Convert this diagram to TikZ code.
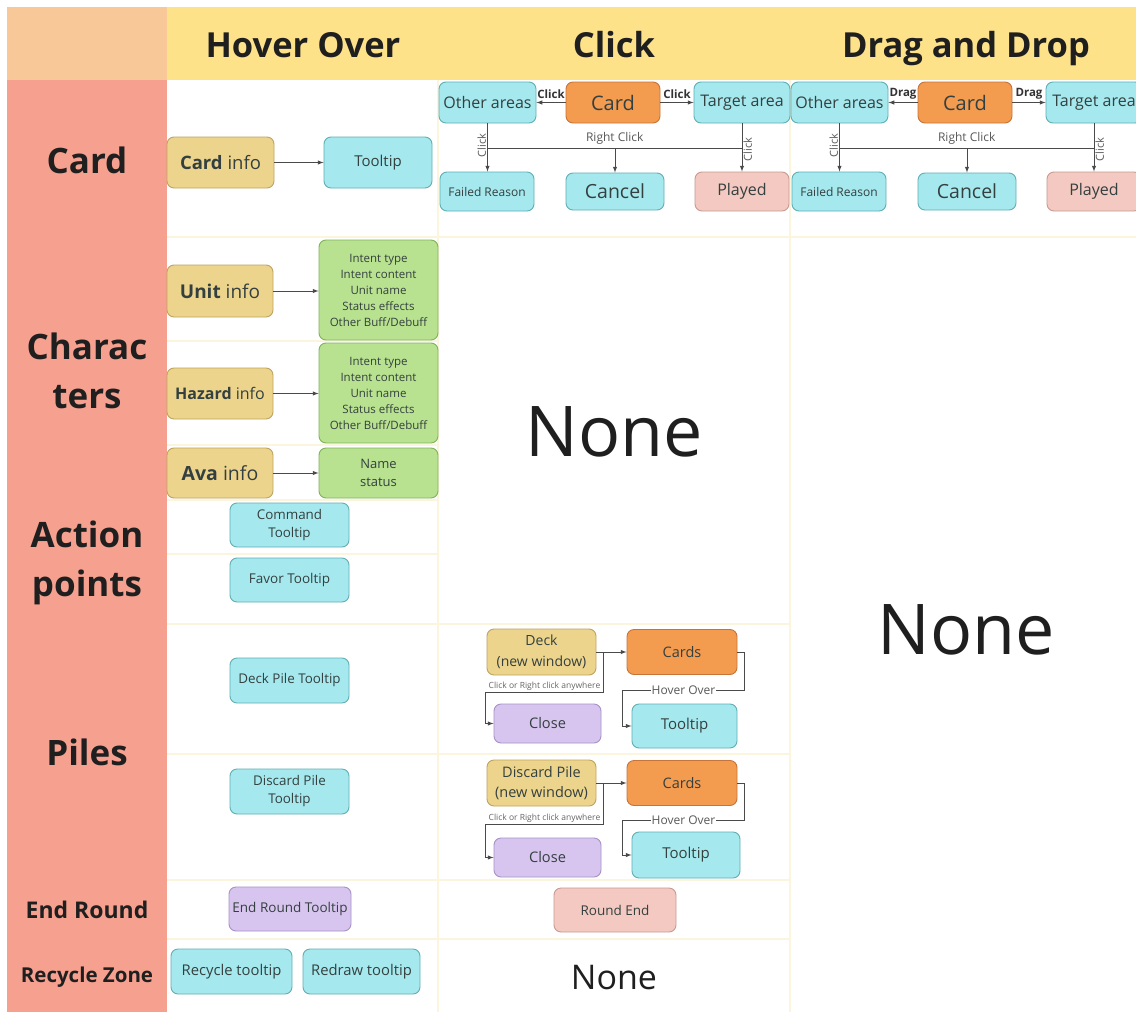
\documentclass[tikz,border=0pt]{standalone}
\usepackage{fontspec}
\setmainfont{Open Sans}
\usetikzlibrary{positioning}

\definecolor{headyellow}{HTML}{FDE28A}
\definecolor{cornerpeach}{HTML}{F8C898}
\definecolor{sidesalmon}{HTML}{F6A18F}
\definecolor{gridline}{HTML}{FCF5DE}
\definecolor{tipfill}{HTML}{A5E9EF}
\definecolor{tipline}{HTML}{62AEB5}
\definecolor{infofill}{HTML}{ECD48C}
\definecolor{infoline}{HTML}{BFA461}
\definecolor{greenfill}{HTML}{B8E190}
\definecolor{greenline}{HTML}{80B45C}
\definecolor{orangefill}{HTML}{F39B4E}
\definecolor{orangeline}{HTML}{C7743A}
\definecolor{pinkfill}{HTML}{F3C9C1}
\definecolor{pinkline}{HTML}{C89B92}
\definecolor{purplefill}{HTML}{D7C5EF}
\definecolor{purpleline}{HTML}{A692C6}
\definecolor{nodetext}{HTML}{34403F}
\definecolor{wirecol}{HTML}{4A4A4A}

\newcommand{\setfs}[2]{\fontsize{#1}{#2}\selectfont}

\begin{document}
\begin{tikzpicture}[x=1pt, y=-1pt,
    box/.style={draw, rounded corners=7pt, line width=0.9pt, align=center, inner sep=1pt, text=nodetext},
    tipbox/.style={box, fill=tipfill, draw=tipline},
    infobox/.style={box, fill=infofill, draw=infoline},
    greenbox/.style={box, fill=greenfill, draw=greenline},
    orangebox/.style={box, fill=orangefill, draw=orangeline},
    pinkbox/.style={box, fill=pinkfill, draw=pinkline},
    purplebox/.style={box, fill=purplefill, draw=purpleline},
    wire/.style={draw=wirecol, line width=1pt, >=latex},
    headtext/.style={font=\bfseries\setfs{34.5}{40}, text=black!88, anchor=base},
    sidetext/.style={font=\bfseries\setfs{35}{49}, align=center, text=black!88},
    actlabel/.style={font=\bfseries\setfs{11.5}{13}, text=black!80, inner sep=1pt},
    smalllabel/.style={font=\setfs{12}{14}, text=black!65, inner sep=1pt},
    tinylabel/.style={font=\setfs{8.5}{10}, text=black!60, inner sep=1pt},
    nonetext/.style={text=black!88},
    grid/.style={draw=gridline, line width=1.2pt}]
    \useasboundingbox (0,0) rectangle (1136,1012);
    \clip (0,0) rectangle (1136,1012);
    \fill[white] (0,0) rectangle (1136,1012);

    % header and side bands
    \fill[cornerpeach] (7,7) rectangle (167,80);
    \fill[headyellow] (167,7) rectangle (1136,80);
    \fill[sidesalmon] (7,80) rectangle (167,1012);
    \node[headtext] (hhover) at (303,57) {Hover Over};
    \node[headtext] (hclick) at (614,57) {Click};
    \node[headtext] (hdrag) at (966,57) {Drag and Drop};

    \node[sidetext] (scard) at (87,160) {Card};
    \node[sidetext] (schar) at (87,371) {Charac\\ters};
    \node[sidetext] (sact) at (87,563) {Action\\points};
    \node[sidetext] (spiles) at (87,752) {Piles};
    \node[sidetext, font=\bfseries\setfs{23}{28}] (send) at (87,910) {End Round};
    \node[sidetext, font=\bfseries\setfs{20.5}{25}] (srec) at (87,977) {Recycle Zone};

    % faint grid
    \foreach \y in {237,341,445,500,554,624,754,880,939}
        \draw[grid] (167,\y) -- (438,\y);
    \foreach \y in {237,624,754,880,939}
        \draw[grid] (438,\y) -- (790,\y);
    \draw[grid] (790,237) -- (1136,237);
    \draw[grid] (438,80) -- (438,1012);
    \draw[grid] (790,80) -- (790,1012);

    % hover over
    \node[infobox, minimum width=107, minimum height=51, font=\setfs{18.5}{22}] (cardinfo) at (220.5,162.5) {\textbf{Card} info};
    \node[tipbox, minimum width=108, minimum height=51, font=\setfs{15}{18}] (cardtip) at (378,162.5) {Tooltip};
    \draw[wire,->] (cardinfo) -- (cardtip);

    \node[infobox, minimum width=106, minimum height=52, font=\setfs{19}{22}] (unitinfo) at (220,291) {\textbf{Unit} info};
    \node[greenbox, minimum width=119, minimum height=100, font=\setfs{11.5}{16}] (unittip) at (378.5,290) {Intent type\\Intent content\\Unit name\\Status effects\\Other Buff/Debuff};
    \draw[wire,->] (unitinfo.east) -- (unitinfo.east -| unittip.west);

    \node[infobox, minimum width=106, minimum height=51, font=\setfs{16}{19}] (hazinfo) at (220,393.5) {\textbf{Hazard} info};
    \node[greenbox, minimum width=119, minimum height=100, font=\setfs{11.5}{16}] (haztip) at (378.5,393) {Intent type\\Intent content\\Unit name\\Status effects\\Other Buff/Debuff};
    \draw[wire,->] (hazinfo.east) -- (hazinfo.east -| haztip.west);

    \node[infobox, minimum width=106, minimum height=50, font=\setfs{19.5}{22}] (avainfo) at (220,473) {\textbf{Ava} info};
    \node[greenbox, minimum width=119, minimum height=50, font=\setfs{13}{18}] (avatip) at (378.5,473) {Name\\status};
    \draw[wire,->] (avainfo) -- (avatip);

    \node[tipbox, minimum width=119, minimum height=44, font=\setfs{13.4}{18}] (cmdtip) at (289.5,525) {Command\\Tooltip};
    \node[tipbox, minimum width=119, minimum height=44, font=\setfs{13.5}{16}] (favtip) at (289.5,580) {Favor Tooltip};
    \node[tipbox, minimum width=119, minimum height=45, font=\setfs{13.4}{16}] (decktiphov) at (289.5,680.5) {Deck Pile Tooltip};
    \node[tipbox, minimum width=119, minimum height=45, font=\setfs{13.4}{18}] (disctiphov) at (289.5,791.5) {Discard Pile\\Tooltip};
    \node[purplebox, minimum width=122, minimum height=44, font=\setfs{13.5}{16}] (endtip) at (290,909) {End Round Tooltip};
    \node[tipbox, minimum width=121, minimum height=45, font=\setfs{14.8}{17}] (rectip) at (231.5,971.5) {Recycle tooltip};
    \node[tipbox, minimum width=117, minimum height=45, font=\setfs{14.8}{17}] (redtip) at (361.5,971.5) {Redraw tooltip};

    % card row, click and drag
    \foreach \dx/\act/\n in {0/Click/c, 352/Drag/d} {
        \node[tipbox, minimum width=97, minimum height=41, font=\setfs{16}{19}] (\n-other) at (487.5+\dx,102.5) {Other areas};
        \node[orangebox, minimum width=94, minimum height=41, font=\setfs{20}{23}] (\n-card) at (613+\dx,102.5) {Card};
        \node[tipbox, minimum width=96, minimum height=41, font=\setfs{16}{19}] (\n-target) at (742+\dx,102.5) {Target area};
        \node[tipbox, minimum width=94, minimum height=39, font=\setfs{12}{14}] (\n-fail) at (487+\dx,191.5) {Failed Reason};
        \node[tipbox, minimum width=98, minimum height=37, font=\setfs{19.5}{22}] (\n-cancel) at (615+\dx,191.5) {Cancel};
        \node[pinkbox, minimum width=94, minimum height=39, font=\setfs{16}{19}] (\n-played) at (742+\dx,191.5) {Played};
        \draw[wire,->] (\n-card) -- (\n-other) node[midway, above=2pt, actlabel] {\act};
        \draw[wire,->] (\n-card) -- (\n-target) node[midway, above=2pt, actlabel] {\act};
        \draw[wire,->] (\n-other.south) -- (\n-other.south |- \n-fail.north) node[midway, rotate=90, above=2pt, smalllabel, font=\setfs{11}{13}] {Click};
        \draw[wire,->] (\n-target.south) -- (\n-target.south |- \n-played.north) node[midway, rotate=90, below=2pt, smalllabel, font=\setfs{11}{13}] {Click};
        \coordinate (\n-rl) at (\n-other.south |- 0,148);
        \coordinate (\n-rr) at (\n-target.south |- 0,148);
        \draw[wire] (\n-rl) -- (\n-rr) node[midway, above=2pt, smalllabel] {Right Click};
        \draw[wire,->] (\n-cancel.north |- \n-rl) -- (\n-cancel.north);
    }

    \node[nonetext, font=\setfs{70}{80}] (noneclick) at (614,432) {None};
    \node[nonetext, font=\setfs{70}{80}] (nonedrag) at (966,630) {None};

    % piles, click
    \node[infobox, minimum width=109, minimum height=46, font=\setfs{14}{20.5}] (deck) at (541.5,652) {Deck\\(new window)};
    \node[orangebox, minimum width=110, minimum height=45, font=\setfs{14.5}{17}] (deckcards) at (682,652) {Cards};
    \node[purplebox, minimum width=107, minimum height=39, font=\setfs{14.6}{17}] (deckclose) at (547.5,723.5) {Close};
    \node[tipbox, minimum width=105, minimum height=44, font=\setfs{15}{18}] (decktip) at (684.5,726) {Tooltip};
    \draw[wire,->] (deck.east) -- (deck.east -| deckcards.west);
    \path (deck.east) ++(7,0) coordinate (deckfork);
    \draw[wire,->] (deckfork) -- ++(0,40) -- ++(-118,0) node[midway, above=0pt, tinylabel] {Click or Right click anywhere} |- (deckclose.west);
    \path (deckcards.east) ++(7,0) coordinate (deckhov);
    \draw[wire,->] (deckcards.east) -- (deckhov) -- ++(0,38) -- ++(-122,0) node[midway, fill=white, inner sep=3pt, smalllabel] {Hover Over} |- (decktip.west);

    \node[infobox, minimum width=109, minimum height=46, font=\setfs{14.5}{20.5}] (disc) at (541.5,783) {Discard Pile\\(new window)};
    \node[orangebox, minimum width=110, minimum height=45, font=\setfs{14.5}{17}] (disccards) at (682,783) {Cards};
    \node[purplebox, minimum width=107, minimum height=39, font=\setfs{14.6}{17}] (discclose) at (547.5,857.5) {Close};
    \node[tipbox, minimum width=108, minimum height=46, font=\setfs{15}{18}] (disctip) at (686,855) {Tooltip};
    \draw[wire,->] (disc.east) -- (disc.east -| disccards.west);
    \path (disc.east) ++(7,0) coordinate (discfork);
    \draw[wire,->] (discfork) -- ++(0,41) -- ++(-118,0) node[midway, above=0pt, tinylabel] {Click or Right click anywhere} |- (discclose.west);
    \path (disccards.east) ++(7,0) coordinate (dischov);
    \draw[wire,->] (disccards.east) -- (dischov) -- ++(0,37) -- ++(-122,0) node[midway, fill=white, inner sep=3pt, smalllabel] {Hover Over} |- (disctip.west);

    % end round, recycle
    \node[pinkbox, minimum width=122, minimum height=44, font=\setfs{13.5}{16}] (roundend) at (615,910) {Round End};
    \node[nonetext, font=\setfs{34}{40}] (nonerec) at (614,978) {None};
\end{tikzpicture}
\end{document}
